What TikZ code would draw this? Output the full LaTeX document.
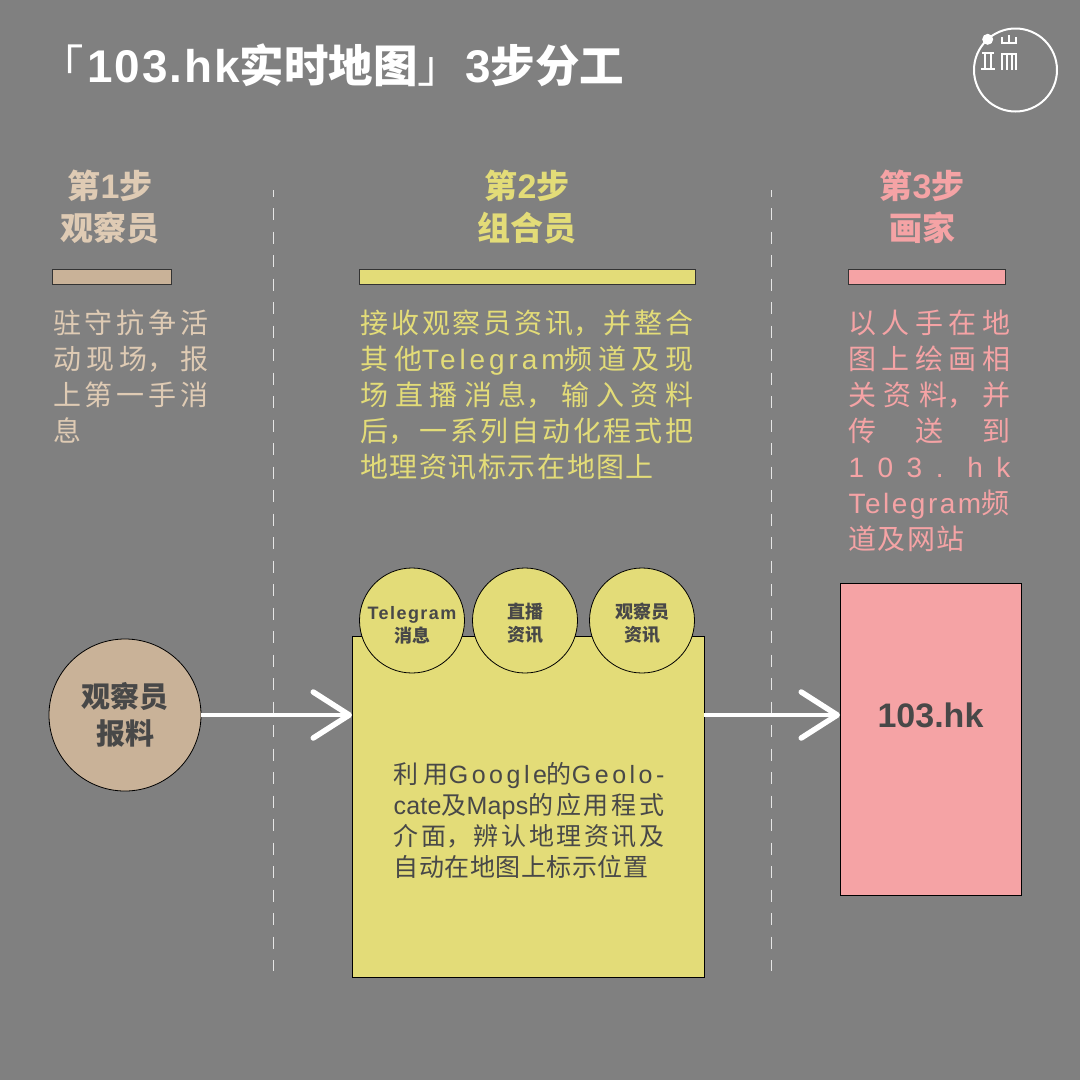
\documentclass[tikz,border=0pt]{standalone}
\usepackage{fontspec}
\setmainfont{Noto Sans CJK SC}
\newfontfamily\latfont[LetterSpace=8]{Liberation Sans}
\newfontfamily\headfont[LetterSpace=4,Scale=1.03]{Liberation Sans}
\newfontfamily\plainfont{Liberation Sans}
\newcommand{\lat}[1]{{\latfont #1}}
\newcommand{\hlat}[1]{{\headfont #1}}
\newcommand{\wlat}[2]{{\latfont\addfontfeature{LetterSpace=#1}#2}}
\newcommand{\bubtext}[2]{\rule{0pt}{22pt}#1\\#2}
\usepackage{xcolor}
\usetikzlibrary{positioning}
\usetikzlibrary{arrows.meta}
\definecolor{bgGray}{HTML}{808080}
\definecolor{obsTan}{HTML}{C9B298}
\definecolor{obsText}{HTML}{DFCBB4}
\definecolor{mixYellow}{HTML}{E3DC78}
\definecolor{artPink}{HTML}{F5A3A5}
\definecolor{darkText}{HTML}{484848}
\tikzset{%
  stepTitle/.style={font=\bfseries\fontsize{33}{42}\selectfont, align=center, inner sep=0pt},
  stepBar/.style={rectangle, draw=black!80, line width=1pt, minimum height=15pt, inner sep=0pt, outer sep=0pt},
  stepText/.style={font=\fontsize{28}{36}\selectfont, align=justify, inner sep=0pt, below=26pt of #1},
  bubble/.style={circle, draw=black, line width=.8pt, fill=mixYellow, minimum size=105pt, inner sep=0pt, text=darkText, align=center, font=\bfseries\fontsize{18}{23}\selectfont},
  flow/.style={draw=white, line width=4.5pt, -{Straight Barb[round,length=36pt,width=46pt,line width=5.5pt]}},
  divider/.style={draw=white!90!black, line width=.7pt, dash pattern=on 12pt off 11.5pt, dash phase=5.5pt},
}
\begin{document}
\begin{tikzpicture}[x=1pt,y=-1pt]
    \XeTeXlinebreaklocale "zh"
    \XeTeXlinebreakskip=1.5pt plus 12pt
    \fill[bgGray] (0,0) rectangle (1080,1080);
    %Title
    \node[anchor=west,text=white,inner sep=0pt,font=\bfseries\fontsize{44.5}{50}\selectfont] (title) at (39,65) {{\mdseries 「}\hspace{4pt}\hlat{103.hk}实时地图{\mdseries 」}\hspace{3pt}\hlat{3}步分工};
    %Logo
    \node[circle,draw=white,line width=2pt,minimum size=83pt,inner sep=0pt] (logo) at (1015.5,70) {};
    \fill[white] (987.7,39.3) circle (5.5);
    \draw[white,line width=1.6pt] (982,53) -- (994,53) (985,53) -- (985,69) (991,53) -- (991,69) (981,69) -- (995,69);
    \draw[white,line width=1.6pt] (1002,37) -- (1002,43) -- (1016,43) -- (1016,37) (1009,35) -- (1009,43);
    \draw[white,line width=1.6pt] (1001,54) -- (1017,54) (1002,54) -- (1002,70) (1007,54) -- (1007,70) (1012,54) -- (1012,70) (1016,54) -- (1016,70);
    %Dividers
    \coordinate (divA) at (273,190);
    \coordinate (divAend) at (273,971);
    \coordinate (divB) at (771,190);
    \coordinate (divBend) at (771,971);
    \draw[divider] (divA) -- (divAend);
    \draw[divider] (divB) -- (divBend);
    %Headers
    \node[stepTitle,text=obsText] (headA) at (110,207) {第\hlat{1}步\\观察员};
    \node[stepTitle,text=mixYellow] (headB) at (527,207) {第\hlat{2}步\\组合员};
    \node[stepTitle,text=artPink] (headC) at (922,207) {第\hlat{3}步\\画家};
    %Bars
    \node[stepBar,fill=obsTan,minimum width=119pt] (barA) at (111.5,276.5) {};
    \node[stepBar,fill=mixYellow,minimum width=336pt] (barB) at (527,276.5) {};
    \node[stepBar,fill=artPink,minimum width=157pt] (barC) at (926.5,276.5) {};
    %Descriptions
    \node[stepText=barA,text=obsText,text width=156pt,xshift=19.5pt] (textA) {驻守抗争活\linebreak 动现场^^^^ff0c报\linebreak 上第一手消\linebreak 息};
    \node[stepText=barB,text=mixYellow,text width=333pt] (textB) {接收观察员资讯^^^^ff0c并整合\linebreak 其他\wlat{14}{Telegram}频道及现\linebreak 场直播消息^^^^ff0c输入资料\linebreak 后^^^^ff0c一系列自动化程式把\linebreak 地理资讯标示在地图上};
    \node[stepText=barC,text=artPink,text width=162pt,xshift=3pt] (textC) {以人手在地\linebreak 图上绘画相\linebreak 关资料^^^^ff0c并\linebreak 传 送 到\linebreak \lat{1 0 3 . h k}\linebreak \wlat{9}{Telegram}频\linebreak 道及网站};
    %Boxes
    \node[circle,draw=black,line width=.8pt,fill=obsTan,minimum size=152pt,inner sep=0pt,text=darkText,align=center,font=\bfseries\fontsize{29}{37}\selectfont] (obs) at (125,715) {观察员\\报料};
    \node[rectangle,draw=black,line width=.8pt,fill=mixYellow,minimum width=352pt,minimum height=341pt,inner sep=0pt,outer sep=0pt] (mix) at (528,806.5) {};
    \node[rectangle,draw=black,line width=.8pt,fill=artPink,minimum width=181pt,minimum height=312pt,inner sep=0pt,outer sep=0pt] (site) at (930.5,739) {};
    \node[text=darkText,font=\bfseries\fontsize{34}{38}\selectfont,inner sep=0pt] (siteLabel) at (930.5,715) {{\plainfont 103.hk}};
    \node[text=darkText,align=justify,text width=271pt,inner sep=0pt,font=\fontsize{25}{31}\selectfont] (mixLabel) at (529,820) {\XeTeXlinebreakskip=.5pt plus 10pt\relax 利用\wlat{14}{Google}的\wlat{14}{Geolo-}\linebreak \wlat{1}{cate}及\wlat{1}{Maps}的应用程式\linebreak 介面^^^^ff0c辨认地理资讯及\linebreak 自动在地图上标示位置};
    %Bubbles
    \node[bubble] (bubA) at (412,620.5) {\bubtext{\lat{Telegram}}{消息}};
    \node[bubble] (bubB) at (525,620.5) {\bubtext{直播}{资讯}};
    \node[bubble] (bubC) at (642,620.5) {\bubtext{观察员}{资讯}};
    %Lines
    \draw[flow] (obs.east) -- (obs.east -| mix.west);
    \draw[flow] (mix.east |- obs.east) -- (site.west |- obs.east);
\end{tikzpicture}
\end{document}
